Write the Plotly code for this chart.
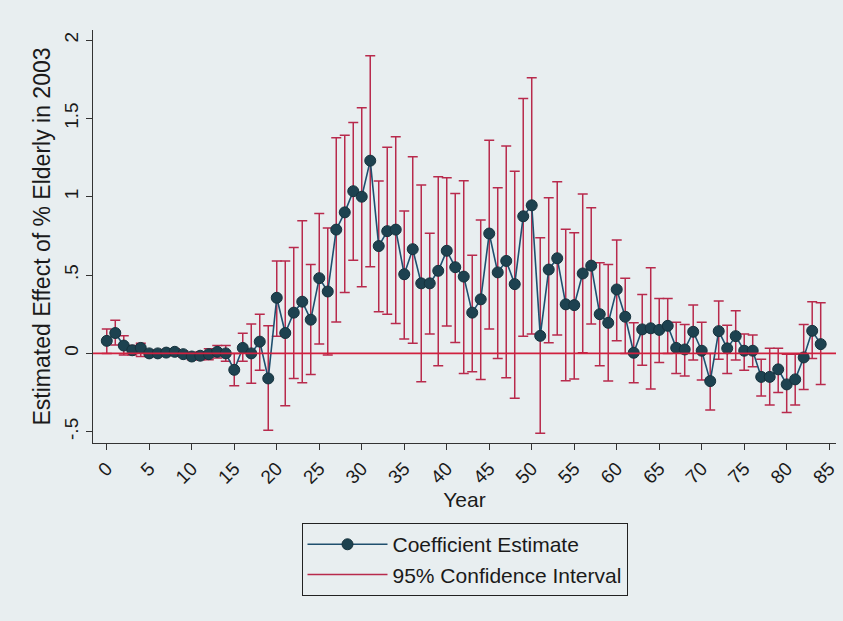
import plotly.graph_objects as go

# Year since treatment (0..84)
years = list(range(85))

# Coefficient estimates
coef = [
    0.08, 0.13, 0.05, 0.02, 0.035, 0.0, 0.0, 0.005, 0.01, -0.005,
    -0.02, -0.015, -0.005, 0.01, 0.0, -0.105, 0.035, 0.0, 0.075, -0.16,
    0.355, 0.13, 0.26, 0.33, 0.215, 0.48, 0.395, 0.79, 0.90, 1.035,
    1.0, 1.23, 0.685, 0.78, 0.79, 0.505, 0.665, 0.447, 0.447, 0.527,
    0.655, 0.55, 0.49, 0.26, 0.345, 0.765, 0.517, 0.59, 0.442, 0.875,
    0.945, 0.112, 0.535, 0.607, 0.313, 0.308, 0.51, 0.56, 0.25, 0.195,
    0.408, 0.234, 0.004, 0.153, 0.16, 0.15, 0.176, 0.035, 0.025, 0.138,
    0.017, -0.177, 0.142, 0.032, 0.11, 0.017, 0.017, -0.15, -0.15, -0.102,
    -0.198, -0.166, -0.026, 0.144, 0.059,
]

# Upper bound of the 95% confidence interval
ci_upper = [
    0.155, 0.212, 0.112, 0.05, 0.065, 0.02, 0.02, 0.025, 0.03, 0.015,
    0.0, 0.01, 0.03, 0.05, 0.05, 0.0, 0.128, 0.187, 0.25, 0.176,
    0.59, 0.59, 0.676, 0.846, 0.568, 0.893, 0.80, 1.376, 1.393, 1.474,
    1.567, 1.90, 1.10, 1.315, 1.382, 0.908, 1.255, 1.074, 0.766, 1.127,
    1.121, 1.021, 1.102, 0.627, 0.851, 1.361, 1.057, 1.323, 1.163, 1.627,
    1.759, 0.738, 0.993, 1.095, 0.793, 0.77, 1.017, 0.929, 0.578, 0.568,
    0.723, 0.479, 0.195, 0.376, 0.546, 0.351, 0.351, 0.198, 0.185, 0.308,
    0.198, 0.0, 0.334, 0.18, 0.272, 0.123, 0.117, -0.038, 0.032, 0.032,
    -0.005, -0.005, 0.185, 0.33, 0.323,
]

# Lower bound of the 95% confidence interval
ci_lower = [
    0.0, 0.053, -0.01, -0.01, -0.02, -0.02, -0.02, -0.015, -0.01, -0.025,
    -0.04, -0.04, -0.04, -0.03, -0.05, -0.207, -0.05, -0.19, -0.107, -0.49,
    0.11, -0.334, -0.16, -0.187, -0.134, 0.06, -0.01, 0.2, 0.389, 0.595,
    0.425, 0.553, 0.266, 0.249, 0.19, 0.091, 0.064, -0.181, 0.123, -0.079,
    0.174, 0.07, -0.128, -0.117, -0.166, 0.155, -0.032, -0.156, -0.287, 0.11,
    0.123, -0.51, 0.068, 0.117, -0.175, -0.164, 0.004, 0.187, -0.079, -0.177,
    0.08, 0.0, -0.187, -0.075, -0.228, -0.058, 0.0, -0.128, -0.145, -0.043,
    -0.17, -0.362, -0.038, -0.128, -0.043, -0.107, -0.085, -0.272, -0.33, -0.249,
    -0.377, -0.33, -0.23, -0.032, -0.198,
]

x_ticks = list(range(0, 90, 5))
y_ticks = [-0.5, 0, 0.5, 1, 1.5, 2]
y_tick_text = ["-.5", "0", ".5", "1", "1.5", "2"]

BG = "#e8eef0"
CI_RED = "#b82a4c"
LINE_NAVY = "#1f4f6e"
MARKER_DARK = "#1d4250"
FONT = "Liberation Sans, Arial, sans-serif"

fig = go.Figure()

# Confidence intervals as capped spikes around each estimate
fig.add_trace(go.Scatter(
    x=years, y=coef, mode="markers",
    marker=dict(size=1, opacity=0),
    error_y=dict(
        type="data", symmetric=False,
        array=[u - c for u, c in zip(ci_upper, coef)],
        arrayminus=[c - l for c, l in zip(coef, ci_lower)],
        color=CI_RED, thickness=1.5, width=5,
    ),
    showlegend=False, hoverinfo="skip",
))

# Connected coefficient estimates
fig.add_trace(go.Scatter(
    x=years, y=coef, mode="lines+markers",
    name="Coefficient Estimate",
    line=dict(color=LINE_NAVY, width=1.6),
    marker=dict(size=11, color=MARKER_DARK, line=dict(color="#16323d", width=1)),
))

# Legend entry for the confidence interval
fig.add_trace(go.Scatter(
    x=[None], y=[None], mode="lines",
    name="95% Confidence Interval",
    line=dict(color=CI_RED, width=1.5),
))

# Reference line at zero
fig.add_shape(
    type="line", xref="paper", yref="y", x0=0, x1=1, y0=0, y1=0,
    line=dict(color="#d0213f", width=1.6), layer="above",
)

fig.update_layout(
    width=843, height=621,
    margin=dict(l=93, r=7, t=30, b=178, autoexpand=False),
    paper_bgcolor=BG, plot_bgcolor=BG,
    font=dict(family=FONT, size=19, color="#1a1a1a"),
    showlegend=True,
    legend=dict(
        x=0.5, xanchor="center", y=-0.194, yanchor="top",
        bgcolor=BG, bordercolor="#222222", borderwidth=1,
        font=dict(family=FONT, size=21, color="#1a1a1a"),
        itemwidth=80,
    ),
    xaxis=dict(
        range=[-1.62, 85.8],
        tickmode="array", tickvals=x_ticks, ticktext=[str(t) for t in x_ticks],
        tickangle=-45, ticks="outside", ticklen=6, tickcolor="#333333",
        showline=True, linecolor="#333333", linewidth=1,
        showgrid=False, zeroline=False,
        tickfont=dict(size=19),
        title=dict(text="Year", font=dict(size=21), standoff=0),
    ),
    yaxis=dict(
        range=[-0.572, 2.064],
        tickmode="array", tickvals=y_ticks, ticktext=y_tick_text,
        tickangle=-90, ticks="outside", ticklen=6, tickcolor="#333333",
        showline=True, linecolor="#333333", linewidth=1,
        showgrid=False, zeroline=False,
        tickfont=dict(size=19),
        title=dict(text="Estimated Effect of % Elderly in 2003",
                   font=dict(size=23), standoff=4),
    ),
)

fig.write_html("out.html")
